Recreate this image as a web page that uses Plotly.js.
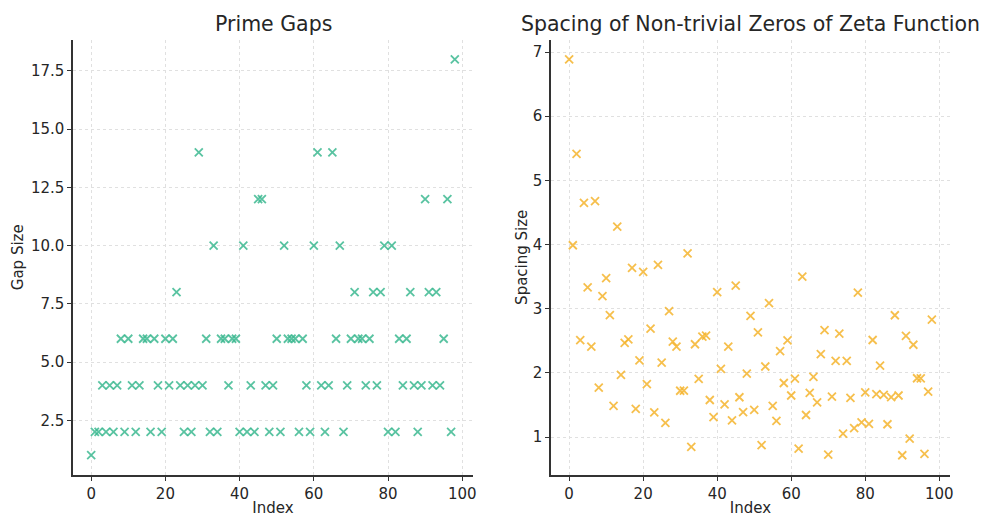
<!DOCTYPE html>
<html>
<head>
<meta charset="utf-8">
<script src="https://cdn.plot.ly/plotly-3.0.1.min.js"></script>
<style>html,body{margin:0;padding:0;background:#fff;}#chart{width:986px;height:517px;}</style>
</head>
<body>
<div id="chart"></div>
<script>
const primeGaps = [1,2,2,4,2,4,2,4,6,2,6,4,2,4,6,6,2,6,4,2,6,4,6,8,4,2,4,2,4,14,4,6,2,10,2,6,6,4,6,6,2,10,2,4,2,12,12,4,2,4,6,2,10,6,6,6,2,6,4,2,10,14,4,2,4,14,6,10,2,4,6,8,6,6,4,6,8,4,8,10,2,10,2,6,4,6,8,4,2,4,12,8,4,8,4,6,12,2,18];
const zetaSpacings = [6.887,3.989,5.414,2.510,4.651,3.333,2.408,4.678,1.769,3.197,3.476,2.901,1.485,4.281,1.967,2.467,2.521,3.638,1.440,2.193,3.573,1.825,2.690,1.384,3.683,2.159,1.219,2.961,2.487,2.408,1.721,1.722,3.861,0.845,2.446,1.907,2.564,2.579,1.577,1.310,3.260,2.062,1.509,2.410,1.259,3.360,1.620,1.388,1.988,2.889,1.422,2.631,0.872,2.099,3.088,1.485,1.252,2.339,1.842,2.506,1.647,1.910,0.818,3.500,1.343,1.687,1.936,1.539,2.291,2.667,0.724,1.630,2.187,2.610,1.053,2.186,1.611,1.139,3.250,1.229,1.696,1.205,2.512,1.670,2.114,1.657,1.199,1.622,2.898,1.647,0.716,2.576,0.976,2.438,1.916,1.913,0.737,1.706,2.831];
const primeIdx = primeGaps.map((_, i) => i);
const zetaIdx = zetaSpacings.map((_, i) => i);
const titles = ["Prime Gaps", "Spacing of Non-trivial Zeros of Zeta Function"];
const yTitles = ["Gap Size", "Spacing Size"];
const xTitle = "Index";

const W = 986, H = 517;
const teal = "rgba(60,185,145,0.85)";
const orange = "rgba(245,180,45,0.85)";
const FONT = "DejaVu Sans, sans-serif";

const traces = [
  {x: primeIdx, y: primeGaps, type: "scatter", mode: "markers", xaxis: "x", yaxis: "y",
   marker: {symbol: "x-thin", size: 8, line: {width: 1.8, color: teal}}, hoverinfo: "none"},
  {x: zetaIdx, y: zetaSpacings, type: "scatter", mode: "markers", xaxis: "x2", yaxis: "y2",
   marker: {symbol: "x-thin", size: 8, line: {width: 1.8, color: orange}}, hoverinfo: "none"}
];

const common = {
  showline: true, linecolor: "#333", linewidth: 1.6,
  ticks: "outside", ticklen: 4, tickwidth: 1, tickcolor: "#333",
  showgrid: true, gridcolor: "#e0e0e0", griddash: "dot", gridwidth: 1,
  zeroline: false, automargin: false,
  tickfont: {family: FONT, size: 15, color: "#262626"}
};
const yd = [1 - 475/H, 1 - 39.5/H];
const layout = {
  width: W, height: H,
  margin: {l: 0, r: 0, t: 0, b: 0},
  paper_bgcolor: "#fff", plot_bgcolor: "#fff",
  showlegend: false,
  xaxis: Object.assign({}, common, {domain: [73/W, 473/W], range: [-4.9, 102.9], tickvals: [0,20,40,60,80,100], anchor: "y",
    title: {text: xTitle, font: {family: FONT, size: 15, color: "#262626"}, standoff: 4}}),
  yaxis: Object.assign({}, common, {domain: yd, range: [0.15, 18.85], tickvals: [2.5,5,7.5,10,12.5,15,17.5], tickformat: ".1f", anchor: "x",
    title: {text: yTitles[0], font: {family: FONT, size: 15, color: "#262626"}, standoff: 4}}),
  xaxis2: Object.assign({}, common, {domain: [551/W, 950/W], range: [-4.9, 102.9], tickvals: [0,20,40,60,80,100], anchor: "y2",
    title: {text: xTitle, font: {family: FONT, size: 15, color: "#262626"}, standoff: 4}}),
  yaxis2: Object.assign({}, common, {domain: yd, range: [0.408, 7.196], tickvals: [1,2,3,4,5,6,7], anchor: "x2",
    title: {text: yTitles[1], font: {family: FONT, size: 15, color: "#262626"}, standoff: 1}}),
  annotations: [
    {text: titles[0], xref: "paper", yref: "paper", x: 273/W, y: 1 - 24/H, xanchor: "center", yanchor: "middle", showarrow: false,
     font: {family: FONT, size: 20.5, color: "#262626"}},
    {text: titles[1], xref: "paper", yref: "paper", x: 750/W, y: 1 - 24/H, xanchor: "center", yanchor: "middle", showarrow: false,
     font: {family: FONT, size: 20.5, color: "#262626"}}
  ]
};
Plotly.newPlot("chart", traces, layout, {staticPlot: true, displayModeBar: false});
</script>
</body>
</html>
